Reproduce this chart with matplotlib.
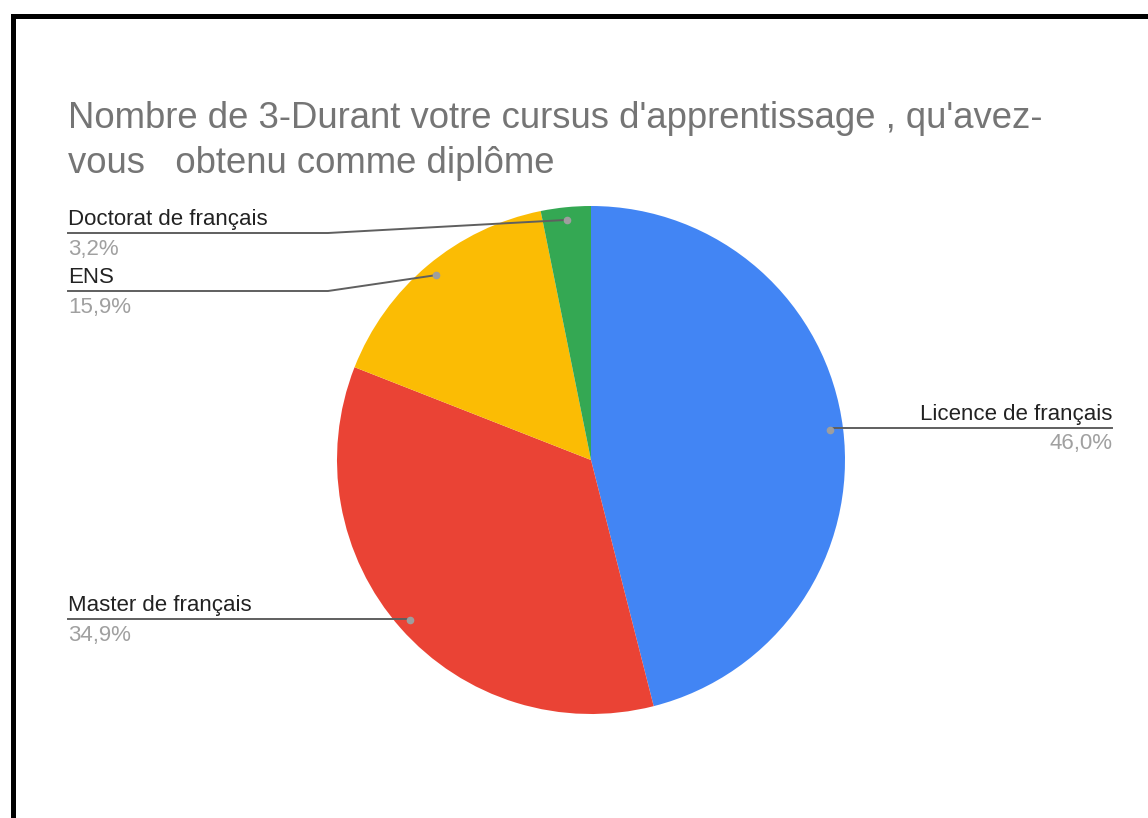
import numpy as np
import matplotlib.pyplot as plt
from matplotlib.lines import Line2D

# donnees du graphique
categories = ["Licence de français", "Master de français", "ENS", "Doctorat de français"]
counts = [29, 22, 10, 2]
colors = ["#4285F4", "#EA4335", "#FBBC04", "#34A853"]

plt.rcParams['font.family'] = ['Liberation Sans', 'DejaVu Sans']

W, H = 1148, 818
fig = plt.figure(figsize=(W / 100, H / 100), dpi=100)
ax = fig.add_axes([0, 0, 1, 1])

# coordonnees en pixels (origine en bas)
cx, cy, R = 591, H - 460, 254
wedges, _ = ax.pie(counts, colors=colors, startangle=90, counterclock=False,
                   center=(cx, cy), radius=R,
                   wedgeprops=dict(edgecolor="none"))
ax.set_xlim(0, W)
ax.set_ylim(0, H)
ax.set_aspect("equal")
ax.axis("off")

total = sum(counts)
pcts = [c / total * 100 for c in counts]

# position des etiquettes: (cote, y de la ligne en pixels depuis le haut)
label_side = ["right", "left", "left", "left"]
label_line_y = [428, 619, 291, 233]
left_x, right_x, bend_x = 68, 1112, 328

for w, name, p, side, ly in zip(wedges, categories, pcts, label_side, label_line_y):
    ang = np.deg2rad((w.theta1 + w.theta2) / 2)
    px = cx + 0.95 * R * np.cos(ang)
    py = cy + 0.95 * R * np.sin(ang)
    ly = H - ly
    if side == "right":
        xs, ys = [px, right_x], [ly, ly]
        tx, ha = right_x, "right"
    else:
        if abs(py - ly) > 2:
            xs, ys = [left_x, bend_x, px], [ly, ly, py]
        else:
            xs, ys = [left_x, px], [ly, ly]
        tx, ha = left_x, "left"
    ax.add_line(Line2D(xs, ys, color="#5f5f5f", lw=1.4, zorder=3))
    ax.plot(px, py, "o", ms=4.5, color="#9E9E9E", zorder=4)
    ax.text(tx, ly + 8, name, ha=ha, va="baseline", fontsize=16, color="#222222")
    pct_txt = f"{p:.1f}%".replace(".", ",")
    ax.text(tx, ly - 21.5, pct_txt, ha=ha, va="baseline", fontsize=16, color="#A0A0A0")

# titre
ax.text(68, H - 128, "Nombre de 3-Durant votre cursus d'apprentissage , qu'avez-",
        ha="left", va="baseline", fontsize=26.3, color="#757575")
ax.text(68, H - 173, "vous   obtenu comme diplôme",
        ha="left", va="baseline", fontsize=26.3, color="#757575")

# cadre noir (gauche et haut)
ax.add_line(Line2D([12.5, 12.5], [0, H - 15.5], color="black", lw=3.6, solid_capstyle="projecting"))
ax.add_line(Line2D([12.5, W], [H - 15.5, H - 15.5], color="black", lw=3.6, solid_capstyle="projecting"))

fig.savefig("out.png", dpi=100)
